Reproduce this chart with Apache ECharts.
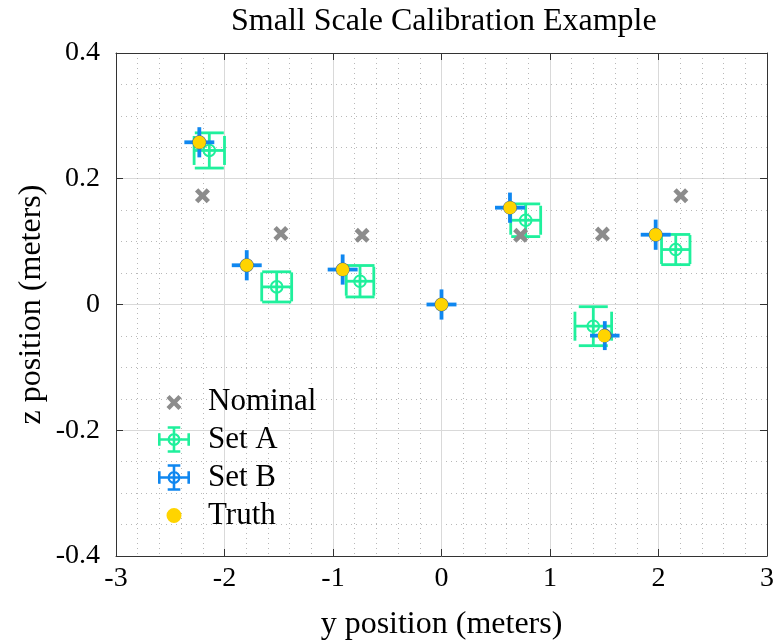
<!DOCTYPE html>
<html><head><meta charset="utf-8">
<script src="https://cdn.jsdelivr.net/npm/echarts@6/dist/echarts.min.js"></script>
<style>html,body{margin:0;padding:0;background:#fff}#chart{width:774px;height:644px}</style>
</head><body><div id="chart"></div>
<script>
// ---- data (y position, z position in meters) ----
const nominalY = [-2.203, -1.480, -0.732, 0.729, 1.483, 2.206];
const nominalZ = [0.173, 0.113, 0.110, 0.110, 0.112, 0.173];

const setAY    = [-2.140, -1.519, -0.751, 0.776, 1.399, 2.159];
const setAZ    = [0.245, 0.028, 0.037, 0.134, -0.0345, 0.0874];
const setAYErr = [0.140, 0.138, 0.127, 0.138, 0.169, 0.131];
const setAZErr = [0.028, 0.024, 0.025, 0.026, 0.031, 0.024];

const setBY    = [-2.232, -1.795, -0.911, 0.000, 0.631, 1.505, 1.974];
const setBZ    = [0.258, 0.0624, 0.0556, 0.000, 0.154, -0.0495, 0.111];
const setBYErr = [0.138, 0.138, 0.138, 0.138, 0.138, 0.136, 0.138];
const setBZErr = [0.024, 0.024, 0.024, 0.024, 0.024, 0.023, 0.024];

const truthY   = [-2.232, -1.795, -0.911, 0.000, 0.631, 1.500, 1.974];
const truthZ   = [0.258, 0.0624, 0.0556, 0.000, 0.154, -0.0499, 0.111];

const xRange = [-3, 3];
const yRange = [-0.4, 0.4];
const seriesNames = ['Nominal', 'Set A', 'Set B', 'Truth'];

// ---- styles ----
const SERIF = "'Liberation Serif', 'Times New Roman', serif";
const GRAY = '#8c8c8c';
const GREEN = '#1ff09c';
const BLUE = '#0f87f0';
const YELLOW = '#ffd400';
const AXIS = '#333333';

const X_PATH = 'path://M0,2.2 L2.2,0 L5,2.8 L7.8,0 L10,2.2 L7.2,5 L10,7.8 L7.8,10 L5,7.2 L2.2,10 L0,7.8 L2.8,5 Z';
const CORNERS = ' M0,0 L0.02,0 L0,0.02 Z M45,28 L44.98,28 L45,27.98 Z';
const ICON_X = 'path://M8.5,10.6 L11.6,7.5 L16,11.9 L20.4,7.5 L23.5,10.6 L19.1,15 L23.5,19.4 L20.4,22.5 L16,18.1 L11.6,22.5 L8.5,19.4 L12.9,15 Z' + CORNERS;
const ICON_ERR = 'path://M0,12.7 L32,12.7 L32,15.3 L0,15.3 Z' +
  ' M14.7,0.7 L17.3,0.7 L17.3,27.3 L14.7,27.3 Z' +
  ' M0,7.7 L2.6,7.7 L2.6,20.3 L0,20.3 Z' +
  ' M29.4,7.7 L32,7.7 L32,20.3 L29.4,20.3 Z' +
  ' M9.7,0.7 L22.3,0.7 L22.3,3.3 L9.7,3.3 Z' +
  ' M9.7,24.7 L22.3,24.7 L22.3,27.3 L9.7,27.3 Z' +
  ' M22.5,14 A6.5,6.5 0 1 1 9.5,14 A6.5,6.5 0 1 1 22.5,14 Z' +
  ' M20.3,14 A4.3,4.3 0 1 0 11.7,14 A4.3,4.3 0 1 0 20.3,14 Z' + CORNERS;
const ICON_DOT = 'path://M23.5,14 A7.5,7.5 0 1 1 8.5,14 A7.5,7.5 0 1 1 23.5,14 Z' + CORNERS;

const CAP_A = 29;

function lineEl(x1, y1, x2, y2, color, w) {
  return {type: 'line', shape: {x1: x1, y1: y1, x2: x2, y2: y2},
          style: {stroke: color, lineWidth: w, fill: null}};
}

function renderSetA(params, api) {
  const x = api.value(0), y = api.value(1), ex = api.value(2), ey = api.value(3);
  const c = api.coord([x, y]);
  const xl = api.coord([x - ex, y])[0], xr = api.coord([x + ex, y])[0];
  const yt = api.coord([x, y + ey])[1], yb = api.coord([x, y - ey])[1];
  const h = CAP_A / 2, w = 2.8;
  return {type: 'group', children: [
    lineEl(xl, c[1], xr, c[1], GREEN, w),
    lineEl(c[0], yt, c[0], yb, GREEN, w),
    lineEl(xl, c[1] - h, xl, c[1] + h, GREEN, w),
    lineEl(xr, c[1] - h, xr, c[1] + h, GREEN, w),
    lineEl(c[0] - h, yt, c[0] + h, yt, GREEN, w),
    lineEl(c[0] - h, yb, c[0] + h, yb, GREEN, w),
    {type: 'circle', shape: {cx: c[0], cy: c[1], r: 5.8}, style: {stroke: GREEN, lineWidth: 2, fill: null}}
  ]};
}

function renderSetB(params, api) {
  const x = api.value(0), y = api.value(1), ex = api.value(2), ey = api.value(3);
  const c = api.coord([x, y]);
  const xl = api.coord([x - ex, y])[0], xr = api.coord([x + ex, y])[0];
  const yt = api.coord([x, y + ey])[1], yb = api.coord([x, y - ey])[1];
  const w = 3.8;
  return {type: 'group', children: [
    lineEl(xl, c[1], xr, c[1], BLUE, w),
    lineEl(c[0], yt, c[0], yb, BLUE, w),
    {type: 'circle', shape: {cx: c[0], cy: c[1], r: 6.3}, style: {stroke: '#4a6a8a', lineWidth: 1.4, fill: null}}
  ]};
}

function mainAxis(extra) {
  return Object.assign({
    type: 'value',
    axisLine: {show: true, onZero: false, lineStyle: {color: AXIS, width: 1}},
    axisTick: {show: true, inside: true, length: 7, lineStyle: {color: AXIS}},
    splitLine: {show: true, lineStyle: {color: '#d9d9d9', width: 1}},
    minorSplitLine: {show: true, lineStyle: {color: '#b8b8b8', width: 1, type: [1, 4]}},
    nameMoveOverlap: false
  }, extra);
}
function boxAxis(extra) {
  return Object.assign({
    type: 'value',
    axisLine: {show: true, onZero: false, lineStyle: {color: AXIS, width: 1}},
    axisTick: {show: true, inside: true, length: 7, lineStyle: {color: AXIS}},
    axisLabel: {show: false},
    splitLine: {show: false}
  }, extra);
}

const option = {
  animation: false,
  backgroundColor: '#ffffff',
  title: {
    text: 'Small Scale Calibration Example',
    left: 226, top: 1,
    textStyle: {fontFamily: SERIF, fontSize: 32, fontWeight: 'normal', color: '#000'}
  },
  grid: {left: 116, right: 7, top: 53, bottom: 88, containLabel: false, outerBoundsMode: 'none'},
  xAxis: [
    mainAxis({
      position: 'bottom', min: xRange[0], max: xRange[1], interval: 1,
      minorTick: {show: false, splitNumber: 5},
      axisLabel: {fontFamily: SERIF, fontSize: 28, color: '#000', margin: 9},
      name: 'y position (meters)', nameLocation: 'middle', nameGap: 53,
      nameTextStyle: {fontFamily: SERIF, fontSize: 32, color: '#000'}
    }),
    boxAxis({position: 'top', min: xRange[0], max: xRange[1], interval: 1})
  ],
  yAxis: [
    mainAxis({
      position: 'left', min: yRange[0], max: yRange[1], interval: 0.2,
      minorTick: {show: false, splitNumber: 4},
      axisLabel: {fontFamily: SERIF, fontSize: 28, color: '#000', margin: 16},
      name: 'z position (meters)', nameLocation: 'middle', nameGap: 68, nameRotate: 90,
      nameTextStyle: {fontFamily: SERIF, fontSize: 32, color: '#000'}
    }),
    boxAxis({position: 'right', min: yRange[0], max: yRange[1], interval: 0.2})
  ],
  legend: {
    orient: 'vertical', left: 158, top: 386, padding: 0,
    itemWidth: 45, itemHeight: 28, itemGap: 7,
    selectedMode: false,
    textStyle: {fontFamily: SERIF, fontSize: 31, color: '#000'},
    data: [
      {name: seriesNames[0], icon: ICON_X, itemStyle: {color: GRAY, borderWidth: 0, opacity: 1}},
      {name: seriesNames[1], icon: ICON_ERR, itemStyle: {color: GREEN, borderWidth: 0, opacity: 1}},
      {name: seriesNames[2], icon: ICON_ERR, itemStyle: {color: BLUE, borderWidth: 0, opacity: 1}},
      {name: seriesNames[3], icon: ICON_DOT, itemStyle: {color: YELLOW, borderWidth: 0, opacity: 1}}
    ]
  },
  series: [
    {
      name: seriesNames[0], type: 'scatter', xAxisIndex: 0, yAxisIndex: 0,
      symbol: X_PATH, symbolSize: 15, itemStyle: {color: GRAY, opacity: 1},
      silent: true,
      data: nominalY.map((v, i) => [v, nominalZ[i]])
    },
    {
      name: seriesNames[1], type: 'custom', xAxisIndex: 0, yAxisIndex: 0,
      renderItem: renderSetA, itemStyle: {color: GREEN}, silent: true,
      encode: {x: 0, y: 1},
      data: setAY.map((v, i) => [v, setAZ[i], setAYErr[i], setAZErr[i]])
    },
    {
      name: seriesNames[2], type: 'custom', xAxisIndex: 0, yAxisIndex: 0,
      renderItem: renderSetB, itemStyle: {color: BLUE}, silent: true,
      encode: {x: 0, y: 1},
      data: setBY.map((v, i) => [v, setBZ[i], setBYErr[i], setBZErr[i]])
    },
    {
      name: seriesNames[3], type: 'scatter', xAxisIndex: 0, yAxisIndex: 0,
      symbol: 'circle', symbolSize: 13, itemStyle: {color: YELLOW, opacity: 1},
      silent: true,
      data: truthY.map((v, i) => [v, truthZ[i]])
    }
  ]
};

const chart = echarts.init(document.getElementById('chart'), null, {renderer: 'canvas'});
chart.setOption(option);
</script>
</body></html>
